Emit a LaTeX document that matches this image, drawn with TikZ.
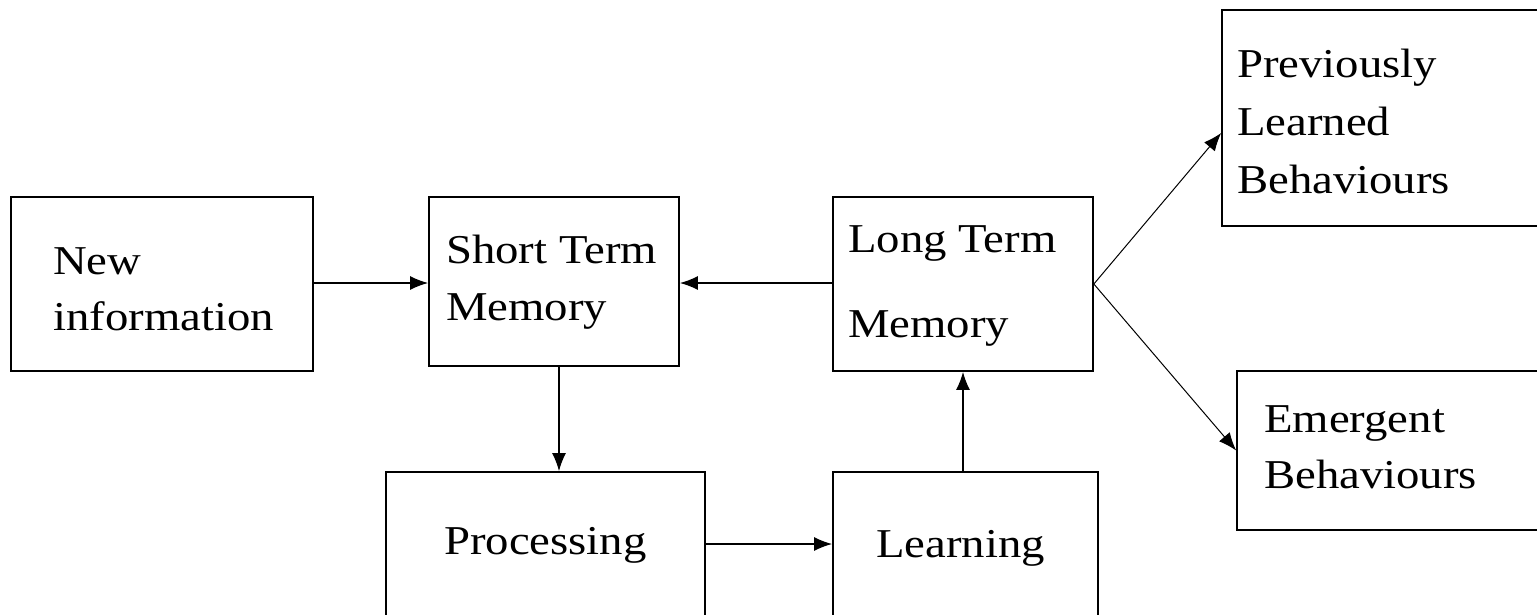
\documentclass[tikz,border=0pt]{standalone}
\usepackage{fontspec}
\setmainfont{Liberation Serif}[FakeStretch=1.14]
\usetikzlibrary{arrows.meta,calc}
\tikzset{
  box/.style={draw=black, line width=1.7pt, rectangle, inner sep=0pt, fill=none},
  lbl/.style={anchor=base west, inner sep=0pt, font=\fontsize{41}{48}\selectfont},
  conn/.style={line width=1.5pt, -{Latex[length=18pt,width=14pt]}},
  thin/.style={line width=1pt, -{Latex[length=18pt,width=14pt]}}
}
\begin{document}
\begin{tikzpicture}[x=1pt,y=-1pt]
\clip (0,0) rectangle (1537,614);
\fill[white] (0,0) rectangle (1537,614);
% boxes
\node[box, minimum width=302pt, minimum height=174pt] (new) at (162,284) {};
\node[box, minimum width=250pt, minimum height=169pt] (stm) at (554,281.5) {};
\node[box, minimum width=260pt, minimum height=174pt] (ltm) at (963,284) {};
\node[box, minimum width=340pt, minimum height=216pt] (plb) at (1392,118) {};
\node[box, minimum width=340pt, minimum height=159pt] (emg) at (1407,450.5) {};
\node[box, minimum width=319pt, minimum height=170pt] (proc) at (545.5,557) {};
\node[box, minimum width=265pt, minimum height=170pt] (learn) at (965.5,557) {};
% texts
\node[lbl] (t1) at (53,274) {New};
\node[lbl] (t2) at (53,330) {information};
\node[lbl] (t3) at (446,263) {Short Term};
\node[lbl] (t4) at (446,320) {Memory};
\node[lbl] (t5) at (848,252) {Long Term};
\node[lbl] (t6) at (848,337) {Memory};
\node[lbl] (t7) at (1237,77) {Previously};
\node[lbl] (t8) at (1237,135) {Learned};
\node[lbl] (t9) at (1237,193) {Behaviours};
\node[lbl] (t10) at (1264,432) {Emergent};
\node[lbl] (t11) at (1264,488) {Behaviours};
\node[lbl] (t12) at (444,554) {Processing};
\node[lbl] (t13) at (876,557) {Learning};
% helper coordinates
\coordinate (cx) at (559,0);
\coordinate (cy) at (0,544);
\coordinate (cp) at (0,133);
% connectors
\draw[conn] (new.east |- 0,283) -- (stm.west |- 0,283);
\draw[conn] (ltm.west |- 0,283) -- (stm.east |- 0,283);
\draw[conn] (stm.south -| cx) -- (proc.north -| cx);
\draw[conn] (proc.east |- cy) -- (learn.west |- cy);
\draw[conn] (learn.north -| ltm.south) -- (ltm.south);
\draw[thin] (ltm.east) -- (plb.west |- cp);
\draw[thin] (ltm.east) -- (emg.west);
\end{tikzpicture}
\end{document}
